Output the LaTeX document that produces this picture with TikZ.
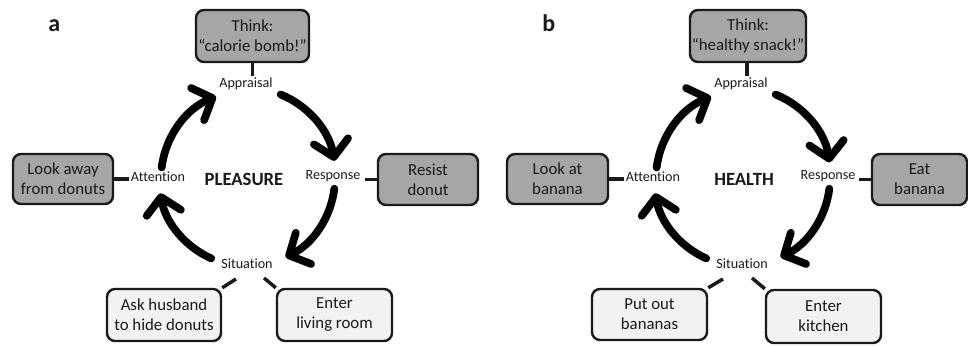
\documentclass[tikz,border=0pt]{standalone}
\usepackage{fontspec}
\setmainfont{Carlito}[Ligatures=NoCommon]
\usetikzlibrary{arrows.meta,calc}
\definecolor{boxgray}{HTML}{A6A6A6}
\definecolor{boxlight}{HTML}{F2F2F2}
\definecolor{ink}{HTML}{1A1A1A}
\tikzset{
  darkbox/.style={draw=ink, line width=1.8pt, rounded corners=6pt, fill=boxgray, align=center,
    font=\fontsize{12.6}{15}\selectfont, text=ink, inner sep=0pt},
  lightbox/.style={darkbox, fill=boxlight},
  steplabel/.style={font=\fontsize{10.6}{12}\selectfont, text=ink, inner sep=1pt},
  centrelabel/.style={font=\fontsize{14}{16}\selectfont\bfseries, text=ink},
  panellabel/.style={font=\fontsize{18}{20}\selectfont\bfseries, text=ink, anchor=base west, inner sep=0pt},
  link/.style={draw=ink, line width=2.6pt},
  cycle/.style={draw=black, line width=5.8pt, line cap=round,
    -{Straight Barb[length=12pt,width=26pt,round]}}
}
\begin{document}
\begin{tikzpicture}[x=0.75pt,y=0.75pt]
\useasboundingbox (0,0) rectangle (968,346);

% ---------------- panel a ----------------
\node[panellabel] (la) at (48,314) {a};
\coordinate (ca) at (247,168);
\node[darkbox, minimum width=84.75pt, minimum height=39pt] (thinkA) at (252.5,310) {Think:\\“calorie bomb!”};
\node[darkbox, minimum width=75pt, minimum height=37.5pt] (lookA) at (63,167) {Look away\\from donuts};
\node[darkbox, minimum width=75pt, minimum height=38.25pt] (resistA) at (428,166.5) {Resist\\donut};
\node[lightbox, minimum width=85.5pt, minimum height=39pt] (askA) at (164,31) {Ask husband\\to hide donuts};
\node[lightbox, minimum width=86.25pt, minimum height=39pt] (enterA) at (334.5,31) {Enter\\living room};

\node[steplabel] (appA) at (246,262) {Appraisal};
\node[steplabel] (attA) at (158,169) {Attention};
\node[steplabel] (respA) at (333,170) {Response};
\node[steplabel] (sitA) at (247,82) {Situation};
\node[centrelabel] (pleasure) at (244,167) {PLEASURE};

\coordinate (sitAl) at (236,67);
\coordinate (sitAr) at (264,68);
\draw[link] (thinkA.south) -- (thinkA.south |- appA.north);
\draw[link] (lookA.east) -- (attA.west |- lookA.east);
\draw[link] (resistA.west) -- ++(-12,0) coordinate (respAe);
\draw[link] (askA.north east) -- (sitAl);
\draw[link] (sitAr) -- (enterA.north west);

\draw[cycle] ($(ca)+(68:90)$) arc[start angle=68, end angle=10, radius=88];
\draw[cycle] ($(ca)+(-7:88)$) arc[start angle=-7, end angle=-64, radius=88];
\draw[cycle] ($(ca)+(-114:88)$) arc[start angle=-114, end angle=-170, radius=88];
\draw[cycle] ($(ca)+(173:86)$) arc[start angle=173, end angle=112, radius=88];

% ---------------- panel b ----------------
\node[panellabel] (lb) at (542,314) {b};
\coordinate (cb) at (742,168);
\node[darkbox, minimum width=87pt, minimum height=39pt] (thinkB) at (748,310) {Think:\\“healthy snack!”};
\node[darkbox, minimum width=75.75pt, minimum height=37.5pt] (lookB) at (557.5,167) {Look at\\banana};
\node[darkbox, minimum width=71.25pt, minimum height=38.25pt] (eatB) at (919.5,166.5) {Eat\\banana};
\node[lightbox, minimum width=86.25pt, minimum height=38.25pt] (putB) at (649.5,31.5) {Put out\\bananas};
\node[lightbox, minimum width=86.25pt, minimum height=39.75pt] (enterB) at (823.5,29.5) {Enter\\kitchen};

\node[steplabel] (appB) at (741,262) {Appraisal};
\node[steplabel] (attB) at (653,169) {Attention};
\node[steplabel] (respB) at (828,170) {Response};
\node[steplabel] (sitB) at (742,82) {Situation};
\node[centrelabel] (health) at (744,167) {HEALTH};

\coordinate (sitBl) at (723,67);
\coordinate (sitBr) at (752,68);
\draw[link] (thinkB.south -| 747,0) -- (747,0 |- appB.north);
\draw[link] (lookB.east) -- (attB.west |- lookB.east);
\draw[link] (eatB.west) -- ++(-12,0) coordinate (respBe);
\draw[link] (putB.north east) -- (sitBl);
\draw[link] (sitBr) -- (enterB.north west);

\draw[cycle] ($(cb)+(68:90)$) arc[start angle=68, end angle=9, radius=88];
\draw[cycle] ($(cb)+(-7:88)$) arc[start angle=-7, end angle=-64, radius=88];
\draw[cycle] ($(cb)+(-114:88)$) arc[start angle=-114, end angle=-170, radius=88];
\draw[cycle] ($(cb)+(173:86)$) arc[start angle=173, end angle=112, radius=88];
\end{tikzpicture}
\end{document}
